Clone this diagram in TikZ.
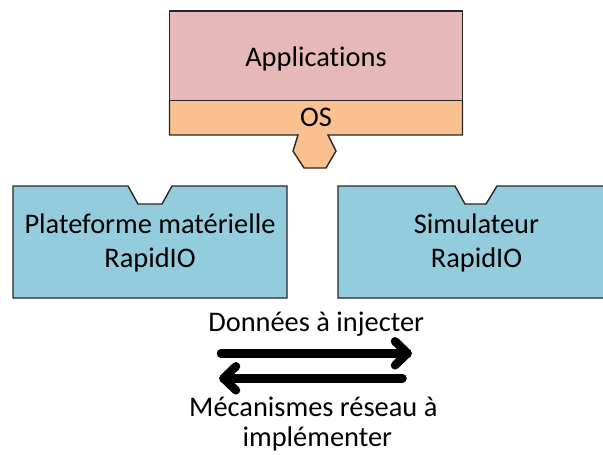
\documentclass[tikz,border=0pt]{standalone}
\usepackage{fontspec}
\setmainfont[Ligatures={NoCommon}]{Carlito}
\definecolor{apppink}{HTML}{E6B9B8}
\definecolor{osorange}{HTML}{FAC090}
\definecolor{hwblue}{HTML}{93CDDD}
\begin{document}
\begin{tikzpicture}[x=1pt,y=-1pt,
  outline/.style={draw=black!85, line width=1.4pt, line join=miter},
  lbl/.style={font=\fontsize{28.4}{34}\selectfont, inner sep=0pt, anchor=base},
  shaft/.style={draw=black, line width=8.5pt, line cap=round},
  chevron/.style={draw=black, line width=8.5pt, line cap=round, line join=round}]
\useasboundingbox (0,0) rectangle (603,455);
\clip (0,0) rectangle (603,455);
% top block
\fill[osorange] (169.5,100.5) rectangle (462.5,135);
\fill[osorange] (298,134) -- (293,151) -- (304,168) -- (326,168) -- (336,151) -- (328,134) -- cycle;
\draw[outline, fill=apppink] (169.5,11) rectangle (462.5,100.5);
\draw[outline] (169.5,100.5) -- (169.5,135) -- (298,135) -- (293,151) -- (304,168) -- (326,168) -- (336,151) -- (328,135) -- (462.5,135) -- (462.5,100.5);
% blue boxes
\draw[outline, fill=hwblue] (13,186) -- (128,186) -- (138,204) -- (162,204) -- (172,186) -- (287,186) -- (287,298) -- (13,298) -- cycle;
\draw[outline, fill=hwblue] (338,186) -- (455,186) -- (465,204) -- (486,204) -- (497,186) -- (614,186) -- (614,298) -- (338,298) -- cycle;
% texts
\node[lbl] (app) at (316,66.5) {Applications};
\node[lbl] (os) at (316,126) {OS};
\node[lbl] (hw1) at (150,233) {Plateforme matérielle};
\node[lbl] (hw2) at (150,267.7) {RapidIO};
\node[lbl] (sim1) at (476.5,233) {Simulateur};
\node[lbl] (sim2) at (476.5,267.7) {RapidIO};
\node[lbl] (data) at (316.2,331.7) {Données à injecter};
\node[lbl] (mech1) at (313.3,416) {Mécanismes réseau à};
\node[lbl] (mech2) at (317.3,446) {implémenter};
% arrows
\coordinate (r0) at (221,353.3);
\coordinate (r1) at (407.5,353.3);
\coordinate (l0) at (402.5,378.3);
\coordinate (l1) at (223.5,378.3);
\draw[shaft] (r0) -- (r1);
\draw[chevron] ([shift={(-12.5,-12)}]r1) -- (r1) -- ([shift={(-12.5,12)}]r1);
\draw[shaft] (l0) -- (l1);
\draw[chevron] ([shift={(12.5,-12)}]l1) -- (l1) -- ([shift={(12.5,12)}]l1);
\end{tikzpicture}
\end{document}
